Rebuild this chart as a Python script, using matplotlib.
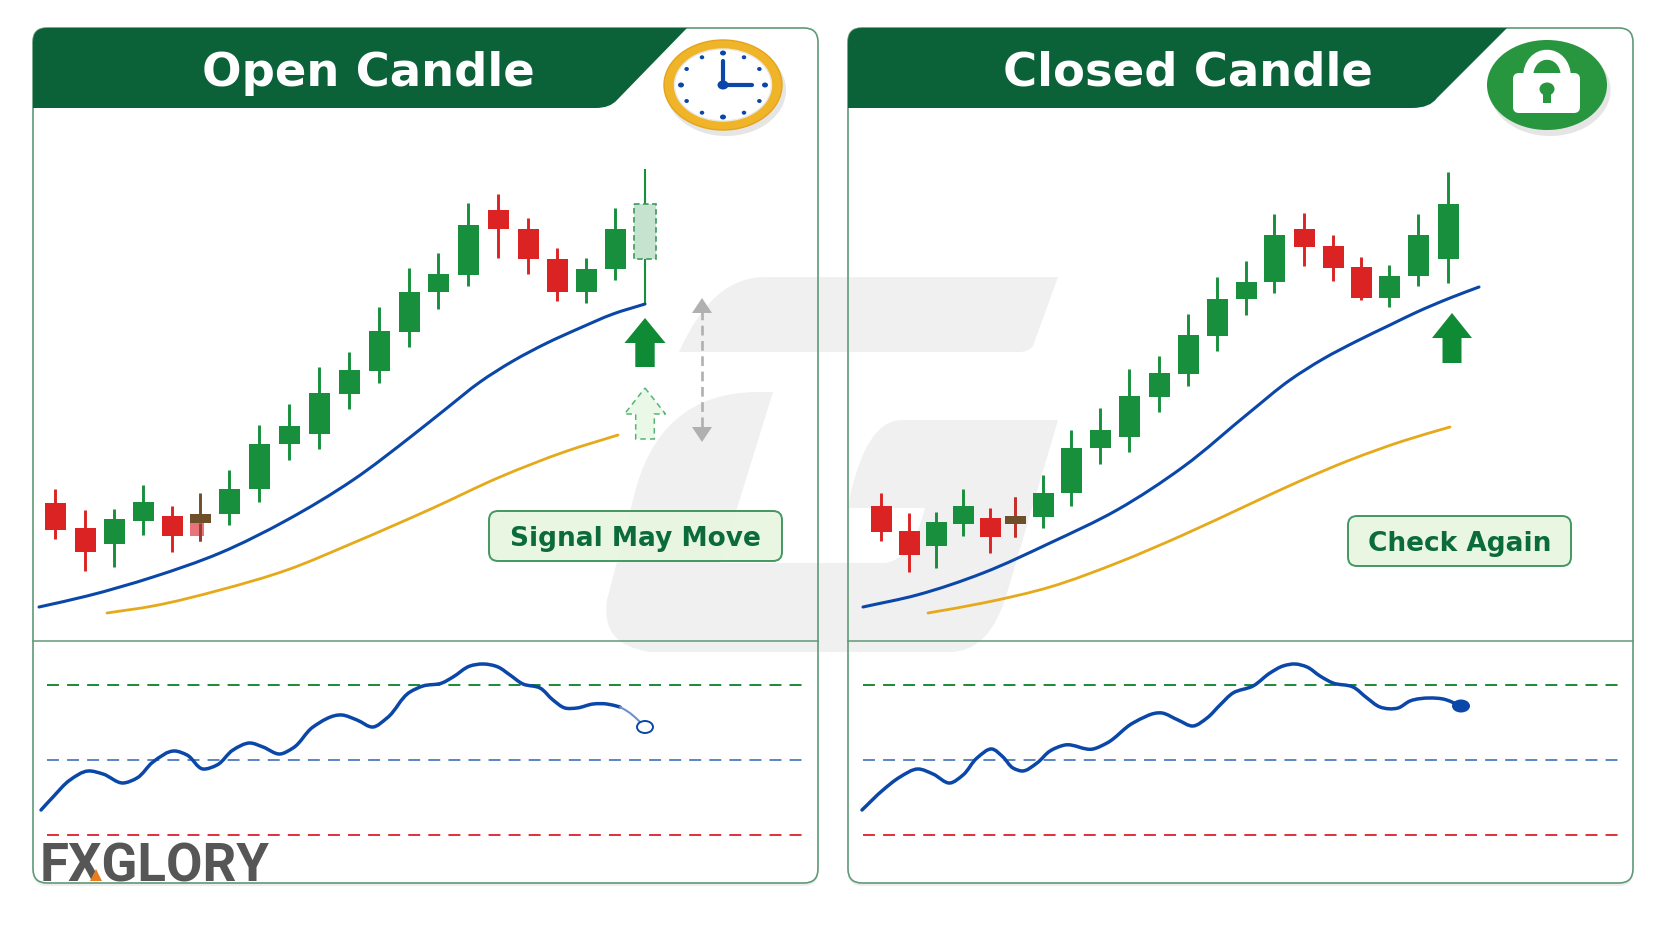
import numpy as np
import matplotlib
matplotlib.use('Agg')
import matplotlib.pyplot as plt
from matplotlib.patches import FancyBboxPatch, PathPatch, Polygon, Ellipse, Rectangle
from matplotlib.path import Path

plt.rcParams['lines.scale_dashes'] = False

GREEN = '#178f3c'
RED = '#dc2323'
BROWN = '#6d5029'
BLUE = '#0a47a8'
GOLD = '#e5a91a'
DARK = '#0b6138'
EDGE = '#5f9a78'

# left panel candles (y scale = image rows)
left_x = [55, 85, 114, 143, 172, 200, 229, 259, 289, 319, 349, 379, 409, 438, 468, 498, 528, 557, 586, 615, 645]
left_top = [503, 528, 519, 502, 516, 514, 489, 444, 426, 393, 370, 331, 292, 274, 225, 210, 229, 259, 269, 229, 204]
left_bot = [530, 552, 544, 521, 536, 523, 514, 489, 444, 434, 394, 371, 332, 292, 275, 229, 259, 292, 292, 269, 259]
left_high = [489, 510, 509, 485, 506, 493, 470, 425, 404, 367, 352, 307, 268, 253, 203, 194, 218, 248, 258, 208, 169]
left_low = [539, 571, 567, 535, 552, 541, 525, 502, 460, 449, 409, 383, 347, 309, 286, 258, 274, 301, 303, 280, 304]
left_col = ['r', 'r', 'g', 'g', 'r', 'b', 'g', 'g', 'g', 'g', 'g', 'g', 'g', 'g', 'g', 'r', 'r', 'r', 'g', 'g', 'o']

# right panel candles
right_x = [881, 909, 936, 963, 990, 1015, 1043, 1071, 1100, 1129, 1159, 1188, 1217, 1246, 1274, 1304, 1333, 1361, 1389, 1418, 1448]
right_top = [506, 531, 522, 506, 518, 516, 493, 448, 430, 396, 373, 335, 299, 282, 235, 229, 246, 267, 276, 235, 204]
right_bot = [532, 555, 546, 524, 537, 524, 517, 493, 448, 437, 397, 374, 336, 299, 282, 247, 268, 298, 298, 276, 259]
right_high = [493, 513, 512, 489, 508, 497, 475, 430, 408, 369, 356, 314, 277, 261, 214, 213, 235, 257, 265, 214, 172]
right_low = [541, 572, 568, 536, 553, 537, 528, 506, 464, 452, 412, 386, 351, 315, 293, 266, 281, 300, 307, 286, 283]
right_col = ['r', 'r', 'g', 'g', 'r', 'b', 'g', 'g', 'g', 'g', 'g', 'g', 'g', 'g', 'g', 'r', 'r', 'r', 'g', 'g', 'g']

# moving averages
left_ma_x = [39, 87, 153, 220, 287, 353, 413, 447, 480, 513, 547, 580, 613, 645]
left_ma_y = [607, 596, 577, 553, 520, 480, 435, 408, 382, 361, 343, 328, 314, 304]
left_slow_x = [107, 153, 220, 287, 353, 433, 500, 567, 618]
left_slow_y = [613, 606, 590, 570, 543, 508, 477, 451, 435]
right_ma_x = [863, 917, 983, 1050, 1117, 1183, 1250, 1290, 1323, 1357, 1390, 1417, 1450, 1479]
right_ma_y = [607, 595, 573, 543, 510, 467, 412, 380, 359, 341, 325, 312, 298, 287]
right_slow_x = [928, 983, 1050, 1117, 1183, 1250, 1300, 1350, 1403, 1450]
right_slow_y = [613, 603, 587, 563, 535, 504, 481, 460, 441, 427]

# oscillator
left_osc_x = [41, 53, 70, 88, 103, 123, 137, 153, 175, 187, 203, 217, 233, 250, 263, 280, 293, 313, 342, 357, 373, 387, 410, 423, 442, 453, 470, 483, 498, 510, 523, 540, 553, 565, 577, 593, 607, 620]
left_osc_y = [810, 797, 780, 771, 774, 783, 778, 762, 751, 755, 769, 765, 750, 743, 747, 754, 748, 727, 715, 720, 727, 718, 692, 686, 683, 677, 666, 664, 667, 675, 684, 688, 700, 708, 708, 704, 704, 707]
left_fade_x = [620, 630, 640]
left_fade_y = [707, 713, 722]
right_osc_x = [862, 883, 900, 918, 933, 950, 963, 977, 992, 1003, 1013, 1022, 1037, 1050, 1065, 1093, 1107, 1133, 1162, 1178, 1193, 1207, 1220, 1233, 1253, 1270, 1283, 1295, 1307, 1320, 1333, 1353, 1367, 1380, 1398, 1410, 1430, 1443, 1461]
right_osc_y = [810, 790, 777, 769, 774, 783, 775, 758, 749, 757, 768, 771, 763, 751, 745, 749, 743, 723, 713, 720, 726, 718, 705, 693, 686, 673, 666, 664, 667, 676, 683, 687, 698, 707, 708, 701, 698, 699, 706]
osc_levels = [685, 760, 835]
osc_colors = ['#1a8a35', '#5b84c4', '#e0303a']


def smooth(xs, ys):
    # bezier segments through the read points, tangents weighted by spacing so nothing kinks
    p = np.column_stack([xs, ys]).astype(float)
    t = np.r_[0, np.cumsum(np.hypot(*np.diff(p, axis=0).T))]
    m = np.gradient(p, t, axis=0)
    verts = [p[0]]
    codes = [Path.MOVETO]
    for i in range(len(p) - 1):
        h = (t[i + 1] - t[i]) / 3
        verts += [p[i] + m[i] * h, p[i + 1] - m[i + 1] * h, p[i + 1]]
        codes += [Path.CURVE4] * 3
    return Path(verts, codes)


def curve(ax, xs, ys, color, lw, z=5, alpha=1):
    ax.add_patch(PathPatch(smooth(xs, ys), fc='none', ec=color, lw=lw, zorder=z, alpha=alpha, capstyle='round'))


def candles(ax, x, top, bot, high, low, col, width=21):
    x = np.array(x)
    top, bot, high, low = map(np.array, (top, bot, high, low))
    cmap = {'g': GREEN, 'r': RED, 'b': BROWN, 'o': GREEN}
    colors = [cmap[c] for c in col]
    wick_lw = [1.5 if c == 'o' else 2.1 for c in col]
    ax.vlines(x, high, low, colors=colors, lw=wick_lw, zorder=4)
    solid = [i for i, c in enumerate(col) if c != 'o']
    ax.bar(x[solid], (bot - top)[solid], width=width, bottom=top[solid], color=[colors[i] for i in solid], zorder=5)


def panel(ax, x0, x1, y0, y1):
    ax.add_patch(FancyBboxPatch((x0, y0 + 3), x1 - x0, y1 - y0, boxstyle='round,pad=0,rounding_size=14',
                                fc='#e4e4e4', ec='none', alpha=0.6, zorder=0))
    ax.add_patch(FancyBboxPatch((x0, y0), x1 - x0, y1 - y0, boxstyle='round,pad=0,rounding_size=14',
                                fc='white', ec='none', zorder=0.5))


def panel_border(ax, x0, x1, y0, y1):
    ax.add_patch(FancyBboxPatch((x0, y0), x1 - x0, y1 - y0, boxstyle='round,pad=0,rounding_size=14',
                                fc='none', ec=EDGE, lw=1.2, zorder=3))
    ax.plot([x0, x1], [641, 641], color=EDGE, lw=1.1, zorder=3)


def header(ax, x0, x_top, x_flat, x_c, y_c):
    verts = [(x0, 42), (x0, 28), (x0 + 14, 28), (x_top, 28), (x_c, y_c), (x_c - 7, 108), (x_flat, 108), (x0, 108), (x0, 42)]
    codes = [Path.MOVETO, Path.CURVE3, Path.CURVE3, Path.LINETO, Path.LINETO, Path.CURVE3, Path.CURVE3, Path.LINETO, Path.CLOSEPOLY]
    ax.add_patch(PathPatch(Path(verts, codes), fc=DARK, ec='none', zorder=6))


def up_arrow(ax, cx, tip, base, bottom, head, stem, **kw):
    pts = [(cx, tip), (cx + head, base), (cx + stem, base), (cx + stem, bottom),
           (cx - stem, bottom), (cx - stem, base), (cx - head, base)]
    ax.add_patch(Polygon(pts, closed=True, **kw))


fig = plt.figure(figsize=(16.64, 9.28), dpi=100)
ax = fig.add_axes([0, 0, 1, 1])
ax.set_xlim(0, 1664)
ax.set_ylim(927, -1)
ax.axis('off')

panel(ax, 33, 818, 28, 883)
panel(ax, 848, 1633, 28, 883)

# watermark behind everything
top_band = Path([(765, 277), (1058, 277), (1033, 346), (1028, 352), (1020, 352), (679, 352), (712, 277), (765, 277)],
                [Path.MOVETO, Path.LINETO, Path.LINETO, Path.CURVE3, Path.CURVE3, Path.LINETO, Path.CURVE3, Path.CURVE3])
ax.add_patch(PathPatch(top_band, fc='#f0f0f0', ec='none', zorder=1))
g_body = Path([(757, 392), (773, 392), (720, 563), (885, 563), (912, 560), (925, 508), (848, 508), (850, 496),
               (867, 420), (902, 420), (1058, 420), (1007, 593), (990, 652), (950, 652), (650, 652),
               (600, 645), (607, 600), (633, 500), (657, 393), (757, 392)],
              [Path.MOVETO, Path.LINETO, Path.LINETO, Path.LINETO, Path.CURVE3, Path.CURVE3, Path.LINETO, Path.LINETO,
               Path.CURVE3, Path.CURVE3, Path.LINETO, Path.LINETO, Path.CURVE3, Path.CURVE3, Path.LINETO,
               Path.CURVE3, Path.CURVE3, Path.LINETO, Path.CURVE3, Path.CURVE3])
ax.add_patch(PathPatch(g_body, fc='#f0f0f0', ec='none', zorder=1))

panel_border(ax, 33, 818, 28, 883)
panel_border(ax, 848, 1633, 28, 883)

header(ax, 33, 687, 596, 617, 100)
header(ax, 848, 1507, 1412, 1437, 98)
ax.text(368, 72, 'Open Candle', color='white', fontsize=33.5, fontweight='bold', family='DejaVu Sans',
        ha='center', va='center', zorder=7)
ax.text(1188, 72, 'Closed Candle', color='white', fontsize=33.5, fontweight='bold', family='DejaVu Sans',
        ha='center', va='center', zorder=7)

# clock
cx, cy = 723, 85
ax.add_patch(Ellipse((cx + 3, cy + 5), 120, 92, fc='#d0d0d0', ec='none', alpha=0.55, zorder=6))
ax.add_patch(Ellipse((cx, cy), 118, 90, fc='#f0b429', ec='#e3a31d', lw=1, zorder=7))
ax.add_patch(Ellipse((cx, cy), 97, 72, fc='white', ec='#e9e9e9', lw=1, zorder=8))
for k in range(12):
    a = np.deg2rad(k * 30)
    big = k % 3 == 0
    ax.add_patch(Ellipse((cx + 42 * np.sin(a), cy - 32 * np.cos(a)), 6 if big else 4.5, 5 if big else 4,
                         fc=BLUE, ec='none', zorder=9))
ax.plot([cx, cx], [cy, 61], color=BLUE, lw=3, zorder=9, solid_capstyle='round')
ax.plot([cx, 752], [cy, cy], color=BLUE, lw=3, zorder=9, solid_capstyle='round')
ax.add_patch(Ellipse((cx, cy), 11, 9, fc=BLUE, ec='none', zorder=10))

# lock
lx, ly = 1547, 85
ax.add_patch(Ellipse((lx + 3, ly + 5), 121, 92, fc='#d0d0d0', ec='none', alpha=0.55, zorder=6))
ax.add_patch(Ellipse((lx, ly), 120, 90, fc='#27963f', ec='none', zorder=7))
ax.add_patch(FancyBboxPatch((1513, 73), 67, 40, boxstyle='round,pad=0,rounding_size=6', fc='white', ec='none', zorder=9))
shackle = Path([(1528, 78), (1528, 47), (1566, 47), (1566, 78)],
               [Path.MOVETO, Path.CURVE4, Path.CURVE4, Path.CURVE4])
ax.add_patch(PathPatch(shackle, fc='none', ec='white', lw=7.2, zorder=8))
ax.add_patch(Ellipse((lx, 89), 15, 13, fc='#27963f', ec='none', zorder=10))
ax.add_patch(Rectangle((lx - 4, 90), 8, 13, fc='#27963f', ec='none', zorder=10))

# candles
candles(ax, left_x, left_top, left_bot, left_high, left_low, left_col)
candles(ax, right_x, right_top, right_bot, right_high, right_low, right_col)
# doji details, left has a pale red ghost under it
ax.add_patch(Rectangle((190, 523), 14, 13, fc='#e8737a', ec='none', zorder=4.5))
ax.vlines([200], [523], [541], colors=['#9c3a2c'], lw=2.1, zorder=4.8)
ax.vlines([1015, 1015], [497, 524], [516, 537], colors=['#c8302c'], lw=2.1, zorder=4.8)
# the still open candle
ax.add_patch(Rectangle((634, 204), 22, 55, fc='#c6e3cf', ec='#3d9a5e', lw=1.2, ls=(0, (4, 2.5)), zorder=5))

curve(ax, left_ma_x, left_ma_y, BLUE, 2.2)
curve(ax, left_slow_x, left_slow_y, GOLD, 2)
curve(ax, right_ma_x, right_ma_y, BLUE, 2.2)
curve(ax, right_slow_x, right_slow_y, GOLD, 2)

# arrows
up_arrow(ax, 645, 318, 343, 367, 20.5, 9.7, fc='#0f8a35', ec='none', zorder=6)
up_arrow(ax, 1452, 313, 338, 363, 20, 9.5, fc='#0f8a35', ec='none', zorder=6)
up_arrow(ax, 645, 388, 414, 439, 20.5, 9.3, fc='#eaf8e7', ec='#57b477', lw=1.1, ls=(0, (4, 3)), zorder=6)

ax.plot([702, 702], [310, 430], color='#b0b0b0', lw=1.9, ls=(0, (7, 4)), zorder=5)
ax.add_patch(Polygon([(702, 298), (712, 313), (692, 313)], closed=True, fc='#b0b0b0', ec='none', zorder=6))
ax.add_patch(Polygon([(702, 442), (712, 427), (692, 427)], closed=True, fc='#b0b0b0', ec='none', zorder=6))

# labels
ax.add_patch(FancyBboxPatch((489, 511), 293, 50, boxstyle='round,pad=0,rounding_size=9',
                            fc='#e6f6df', ec='#2b8a4e', lw=1.4, alpha=0.88, zorder=6))
ax.text(635.5, 538, 'Signal May Move', color='#0c6b3a', fontsize=19, fontweight='bold', family='DejaVu Sans',
        ha='center', va='center', zorder=7)
ax.add_patch(FancyBboxPatch((1348, 516), 223, 50, boxstyle='round,pad=0,rounding_size=9',
                            fc='#e6f6df', ec='#2b8a4e', lw=1.4, alpha=0.88, zorder=6))
ax.text(1459.5, 543, 'Check Again', color='#0c6b3a', fontsize=19, fontweight='bold', family='DejaVu Sans',
        ha='center', va='center', zorder=7)

# oscillator panes
for lev, c in zip(osc_levels, osc_colors):
    ax.plot([47, 802], [lev, lev], color=c, lw=1.4, ls=(0, (8.6, 5.85)), zorder=4)
    ax.plot([863, 1618], [lev, lev], color=c, lw=1.4, ls=(0, (8.6, 5.85)), zorder=4)
curve(ax, left_osc_x, left_osc_y, BLUE, 2.5)
curve(ax, left_fade_x, left_fade_y, '#6f8fce', 1.5)
ax.add_patch(Ellipse((left_fade_x[-1] + 5, left_fade_y[-1] + 5), 16, 12, fc='white', ec=BLUE, lw=1.4, zorder=6))
curve(ax, right_osc_x, right_osc_y, BLUE, 2.5)
ax.add_patch(Ellipse((right_osc_x[-1], right_osc_y[-1]), 18, 13, fc=BLUE, ec='none', zorder=6))

# logo
ax.text(40, 881, 'FXGLORY', color='#565656', fontsize=38, fontweight='bold', family='Roboto',
        ha='left', va='baseline', zorder=7)
ax.add_patch(Polygon([(96, 869), (102, 881), (90, 881)], closed=True, fc='#e87d1e', ec='none', zorder=8))

fig.savefig('out.png', dpi=100, facecolor='white')
